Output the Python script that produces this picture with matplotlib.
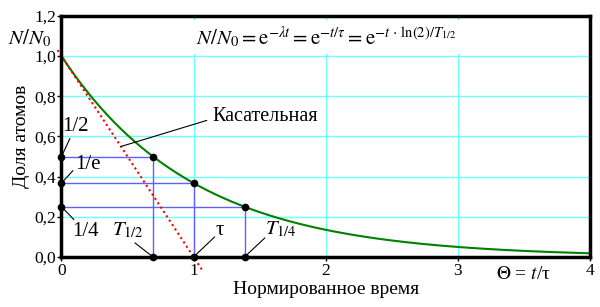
import numpy as np
import matplotlib.pyplot as plt

plt.rcParams['font.family'] = ['Liberation Serif', 'DejaVu Serif']
plt.rcParams['mathtext.fontset'] = 'stix'

# normalised time axis and the decay curve N/N0 = exp(-t/tau) shown in the chart
theta = np.linspace(0, 4, 400)
fraction = np.exp(-theta)

# marked points: (time, level) for T1/2, tau, T1/4
mark_times = [0.693, 1.0, 1.386]
mark_levels = [0.5, 0.368, 0.25]
time_labels = [r'$T_{1/2}$', 'τ', r'$T_{1/4}$']
level_labels = ['1/2', '1/e', '1/4']

# tangent at t=0 : y = 1 - t
tangent_x = [-0.03, 1.07]

xticks = [0, 1, 2, 3, 4]
yticks = [0.0, 0.2, 0.4, 0.6, 0.8, 1.0, 1.2]
ytick_labels = ['0,0', '0,2', '0,4', '0,6', '0,8', '1,0', '1,2']

fig = plt.figure(figsize=(6, 3.07), dpi=100)
ax = fig.add_axes([0.1025, 0.163, 0.8805, 0.785])

ax.set_xlim(0, 4)
ax.set_ylim(0, 1.2)

for x in [1, 2, 3]:
    ax.axvline(x, color='#70ffff', lw=1, zorder=0)
for y in [0.2, 0.4, 0.6, 0.8, 1.0]:
    ax.axhline(y, color='#70ffff', lw=1, zorder=0)

# helper lines to the marked points
for t, lv in zip(mark_times, mark_levels):
    ax.plot([0, t], [lv, lv], color='#6060ff', lw=1, zorder=2)
    ax.plot([t, t], [lv, 0], color='#6060ff', lw=1, zorder=2)

ax.plot(theta, fraction, color='#008000', lw=1.5, zorder=3)
ax.plot(tangent_x, [1 - x for x in tangent_x], color='red', lw=1.5,
        ls=(0, (1, 1.5)), zorder=3, clip_on=False)

ax.plot(mark_times, mark_levels, 'o', color='black', ms=4.5, zorder=5)
ax.plot(mark_times, [0, 0, 0], 'o', color='black', ms=4.5, zorder=5, clip_on=False)
ax.plot([0, 0, 0], mark_levels, 'o', color='black', ms=4.5, zorder=5, clip_on=False)

arrow = dict(arrowstyle='-', color='black', lw=0.8, shrinkA=0, shrinkB=0)
# level labels at the left
level_text_pos = [(0.005, 0.65), (0.10, 0.46), (0.08, 0.126)]
level_line_end = [(0.064, 0.59), (0.087, 0.43), (0.094, 0.186)]
for lv, lab, tp, le in zip(mark_levels, level_labels, level_text_pos, level_line_end):
    ax.annotate('', xy=(0, lv), xytext=le, arrowprops=arrow, annotation_clip=False)
    ax.text(tp[0], tp[1], lab, fontsize=15, ha='left', va='center')

# time labels near the axis
time_text_pos = [(0.5, 0.13), (1.2, 0.13), (1.66, 0.135)]
time_line_end = [(0.556, 0.07), (1.16, 0.10), (1.54, 0.095)]
for t, lab, tp, le in zip(mark_times, time_labels, time_text_pos, time_line_end):
    ax.annotate('', xy=(t, 0), xytext=le, arrowprops=arrow, annotation_clip=False)
    ax.text(tp[0], tp[1], lab, fontsize=15, ha='center', va='center')

ax.annotate('', xy=(0.45, 0.55), xytext=(1.1, 0.68), arrowprops=arrow)
ax.text(1.14, 0.70, 'Касательная', fontsize=14.5, ha='left', va='center')

ax.text(2.0, 1.095,
        r'$N/N_0 = \mathrm{e}^{-\lambda t} = \mathrm{e}^{-t/\tau} = '
        r'\mathrm{e}^{-t\,\cdot\,\mathrm{ln(2)}/T_{1/2}}$',
        fontsize=15, ha='center', va='center',
        bbox=dict(facecolor='white', edgecolor='none', pad=3), zorder=6)

for s in ax.spines.values():
    s.set_linewidth(2.5)
    s.set_zorder(4)

ax.set_xticks(xticks)
ax.set_yticks(yticks)
ax.set_yticklabels(ytick_labels)
ax.tick_params(direction='out', length=3, width=1, labelsize=12.5, pad=1)

ax.text(3.5, -0.045, r'$\Theta$ = $t$/τ', fontsize=14, ha='center', va='top')
fig.text(0.05, 0.875, r'$N/N_0$', fontsize=15, ha='center', va='center')
ax.set_ylabel('Доля атомов', fontsize=14, labelpad=3)
ax.set_xlabel('Нормированное время', fontsize=14, labelpad=2)

fig.savefig('out.png', dpi=100)
